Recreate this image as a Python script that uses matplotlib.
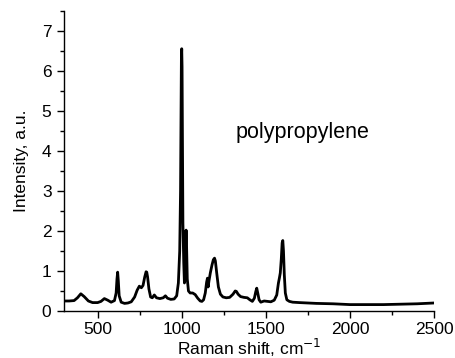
import matplotlib
matplotlib.use("Agg")
import matplotlib.pyplot as plt
from matplotlib.ticker import MultipleLocator

plt.rcParams['font.family'] = ['Liberation Sans', 'DejaVu Sans']

raman_shift = [300, 330, 360, 380, 400, 420, 445, 470, 500, 520, 540, 560, 580, 600,
               610, 615, 619, 623, 628, 640, 660, 680, 700, 720, 735, 748, 760, 770,
               780, 788, 792, 797, 805, 815, 825, 837, 850, 870, 890, 903, 915, 935,
               955, 970, 980, 988, 993, 996, 998, 1000, 1002, 1004, 1007, 1012, 1016,
               1020, 1023, 1026, 1029, 1033, 1040, 1050, 1065, 1080, 1095, 1110, 1120,
               1130, 1140, 1148, 1153, 1157, 1162, 1170, 1180, 1188, 1195, 1200, 1208,
               1218, 1230, 1245, 1265, 1285, 1305, 1318, 1325, 1335, 1350, 1370, 1390,
               1405, 1420, 1432, 1440, 1446, 1452, 1460, 1470, 1490, 1510, 1530, 1550,
               1565, 1575, 1581, 1586, 1592, 1597, 1601, 1605, 1610, 1616, 1625, 1640,
               1660, 1700, 1750, 1800, 1900, 2000, 2100, 2200, 2300, 2400, 2500]
intensity = [0.25, 0.25, 0.26, 0.33, 0.43, 0.36, 0.25, 0.21, 0.21, 0.24, 0.31, 0.27, 0.22, 0.26,
             0.45, 0.80, 0.97, 0.75, 0.38, 0.22, 0.19, 0.20, 0.23, 0.35, 0.52, 0.62, 0.58, 0.64,
             0.85, 0.98, 0.97, 0.85, 0.55, 0.35, 0.33, 0.40, 0.33, 0.31, 0.33, 0.38, 0.32, 0.29,
             0.30, 0.38, 0.70, 1.5, 3.0, 5.0, 6.3, 6.55, 6.1, 4.5, 2.2, 1.2, 0.7,
             0.8, 1.6, 2.02, 1.6, 0.8, 0.5, 0.45, 0.45, 0.41, 0.32, 0.25, 0.24,
             0.28, 0.45, 0.72, 0.82, 0.60, 0.75, 0.95, 1.15, 1.28, 1.32, 1.25, 0.95,
             0.60, 0.42, 0.35, 0.33, 0.34, 0.42, 0.50, 0.49, 0.42, 0.36, 0.34, 0.33,
             0.28, 0.24, 0.32, 0.48, 0.57, 0.45, 0.28, 0.22, 0.25, 0.24, 0.23, 0.27,
             0.40, 0.70, 0.83, 0.95, 1.3, 1.7, 1.76, 1.5, 0.9, 0.45, 0.28, 0.24,
             0.22, 0.21, 0.20, 0.19, 0.18, 0.16, 0.16, 0.16, 0.17, 0.18, 0.20]

x_ticks = [500, 1000, 1500, 2000, 2500]
y_ticks = [0, 1, 2, 3, 4, 5, 6, 7]

fig = plt.figure(figsize=(4.55, 3.58), dpi=100)
ax = fig.add_axes([64/455, 1 - 311/358, (434 - 64)/455, (311 - 10.7)/358])
ax.plot(raman_shift, intensity, color='black', lw=2.0)
ax.set_xlim(300, 2500)
ax.set_ylim(0, 7.5)
ax.set_xticks(x_ticks)
ax.set_yticks(y_ticks)
ax.xaxis.set_minor_locator(MultipleLocator(250))
ax.yaxis.set_minor_locator(MultipleLocator(0.5))
ax.tick_params(which='major', direction='out', length=5, width=1, labelsize=12.5)
ax.tick_params(axis='y', which='major', pad=4)
ax.tick_params(axis='x', which='major', pad=3)
ax.tick_params(which='minor', direction='out', length=3, width=1)
for s in ['top', 'right']:
    ax.spines[s].set_visible(False)
for s in ['left', 'bottom']:
    ax.spines[s].set_linewidth(1)
ax.set_xlabel('Raman shift, cm$^{-1}$', fontsize=12.5, labelpad=0)
ax.set_ylabel('Intensity, a.u.', fontsize=12.5, labelpad=9)
ax.text(1320, 4.45, 'polypropylene', fontsize=15.5, ha='left', va='center')
fig.savefig('out.png', dpi=100)
